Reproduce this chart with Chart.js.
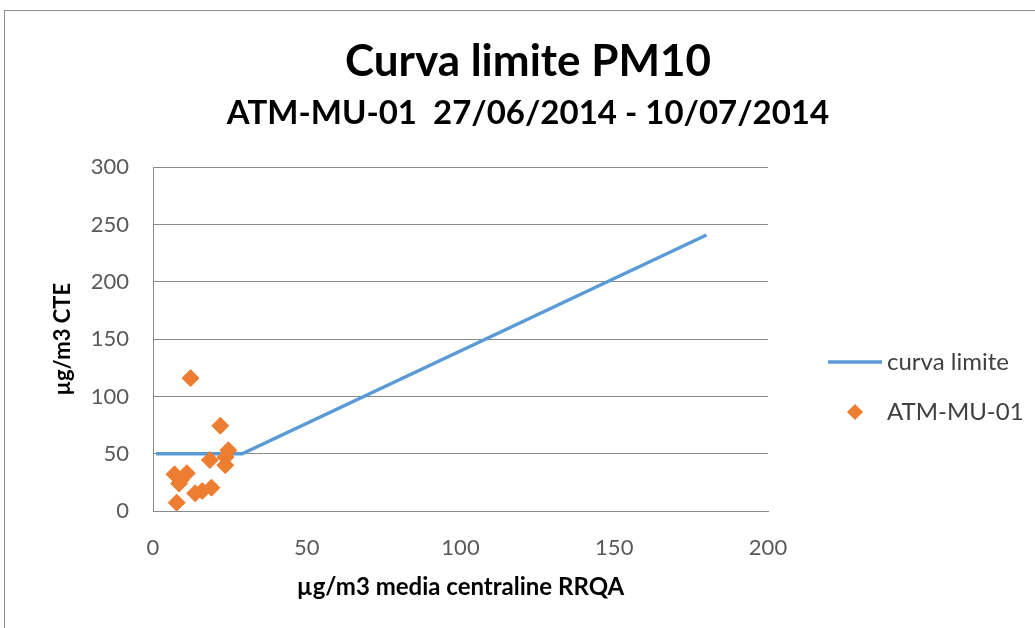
<!DOCTYPE html>
<html>
<head>
<meta charset="utf-8">
<script src="https://cdn.jsdelivr.net/npm/chart.js@4/dist/chart.umd.min.js"></script>
<style>
    html, body { margin: 0; padding: 0; background: #fff; }
    #marco { position: absolute; left: 4px; top: 10px; width: 1040px; height: 640px; border: 1px solid #8c8c8c; box-sizing: border-box; }
    #contenedor { position: absolute; left: 0; top: 0; width: 1035px; height: 628px; }
</style>
</head>
<body>
<div id="marco"></div>
<div id="contenedor"><canvas id="graficoCurva"></canvas></div>
<script>
// curva limite (x = media centraline RRQA, y = CTE)
const xLimite = [1, 29, 180];
const yLimite = [50, 50, 241];

// ATM-MU-01, 27/06/2014 - 10/07/2014
const xMedia = [12.2, 21.9, 24.5, 23.6, 23.5, 18.5, 7.0, 11.0, 9.0, 8.5, 13.7, 16.0, 19.0, 7.7];
const yCte   = [116, 74.5, 53, 47, 40, 44.5, 32, 33, 27, 24, 15.5, 17.5, 20.4, 7.3];

const etiquetas = ["curva limite", "ATM-MU-01"];
const titulo = "Curva limite PM10";
const subtitulo = "ATM-MU-01  27/06/2014 - 10/07/2014";
const tituloX = "\u00b5g/m3 media centraline RRQA";
const tituloY = "\u00b5g/m3 CTE";

const fuente = "Lato, 'Open Sans', sans-serif";
const azul = "#5B9BD5";
const naranja = "#ED7D31";

// leyenda dibujada a mano (linea larga + rombo, como en Excel)
const leyendaExcel = {
    id: "leyendaExcel",
    afterDraw(chart) {
        const ctx = chart.ctx;
        const x0 = chart.chartArea.right + 60;
        let y = 362;
        ctx.save();
        ctx.font = "24px " + fuente;
        ctx.textBaseline = "middle";
        chart.data.datasets.forEach(ds => {
            if (ds.showLine) {
                ctx.strokeStyle = ds.borderColor;
                ctx.lineWidth = 3.5;
                ctx.beginPath();
                ctx.moveTo(x0, y);
                ctx.lineTo(x0 + 54, y);
                ctx.stroke();
            } else {
                const cx = x0 + 27, r = 8;
                ctx.fillStyle = ds.backgroundColor;
                ctx.beginPath();
                ctx.moveTo(cx, y - r);
                ctx.lineTo(cx + r, y);
                ctx.lineTo(cx, y + r);
                ctx.lineTo(cx - r, y);
                ctx.closePath();
                ctx.fill();
            }
            ctx.fillStyle = "#404040";
            ctx.fillText(ds.label, x0 + 59, y);
            y += 50;
        });
        ctx.restore();
    }
};

new Chart(document.getElementById("graficoCurva"), {
    type: "scatter",
    data: {
        datasets: [
            {
                label: etiquetas[0],
                data: xLimite.map((x, i) => ({ x: x, y: yLimite[i] })),
                showLine: true,
                borderColor: azul,
                backgroundColor: azul,
                borderWidth: 3.5,
                pointRadius: 0,
                order: 1
            },
            {
                label: etiquetas[1],
                data: xMedia.map((x, i) => ({ x: x, y: yCte[i] })),
                pointStyle: "rectRot",
                pointRadius: 8.5,
                backgroundColor: naranja,
                borderColor: naranja,
                borderWidth: 1,
                order: 0
            }
        ]
    },
    options: {
        responsive: true,
        maintainAspectRatio: false,
        animation: false,
        layout: { padding: { top: 35, left: 21, right: 0, bottom: 26 } },
        plugins: {
            legend: { display: false },
            tooltip: { enabled: false },
            title: {
                display: true,
                text: titulo,
                color: "#000",
                font: { family: fuente, size: 44, weight: "bold", lineHeight: 1.2 },
                padding: { top: 0, bottom: 0 }
            },
            subtitle: {
                display: true,
                text: subtitulo,
                color: "#000",
                font: { family: fuente, size: 33, weight: "bold", lineHeight: 1.2 },
                padding: { top: 6, bottom: 34 }
            }
        },
        scales: {
            x: {
                type: "linear",
                min: 0,
                max: 200,
                afterFit(scale) { scale.height = 91; },
                ticks: { stepSize: 50, padding: 16, color: "#595959", font: { family: fuente, size: 22 } },
                grid: { display: false },
                border: { display: true, color: "#898989", width: 1 },
                title: {
                    display: true,
                    text: tituloX,
                    color: "#000",
                    font: { family: fuente, size: 24, weight: "bold", lineHeight: 1.2 },
                    padding: { top: 0, bottom: 0 }
                }
            },
            y: {
                type: "linear",
                min: 0,
                max: 300,
                afterFit(scale) { scale.width = 132; },
                ticks: { stepSize: 50, padding: 24, color: "#595959", font: { family: fuente, size: 22 } },
                grid: { color: "#898989", lineWidth: 1, drawTicks: false },
                border: { display: true, color: "#898989", width: 1 },
                title: {
                    display: true,
                    text: tituloY,
                    color: "#000",
                    font: { family: fuente, size: 22, weight: "bold", lineHeight: 1.2 },
                    padding: { top: 29, bottom: 0 }
                }
            },
            // espacio a la derecha para la leyenda
            hueco: {
                type: "linear",
                position: "right",
                min: 0,
                max: 1,
                afterFit(scale) { scale.width = 267; },
                ticks: { display: false },
                grid: { display: false, drawTicks: false },
                border: { display: false }
            }
        }
    },
    plugins: [leyendaExcel]
});
</script>
</body>
</html>
